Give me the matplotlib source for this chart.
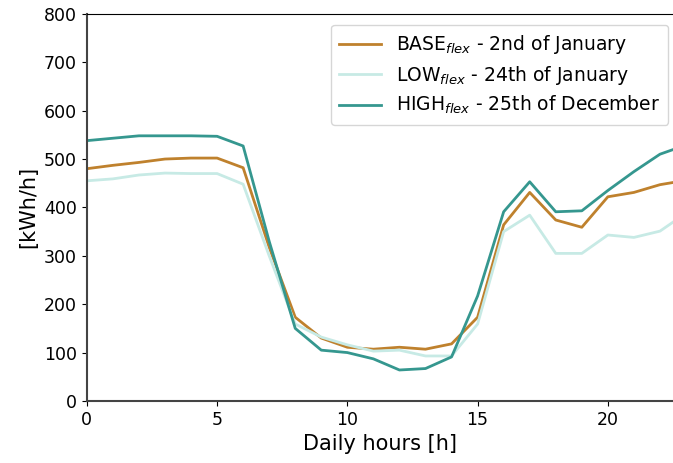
import numpy as np
import matplotlib.pyplot as plt

hours = list(range(24))

base_flex = [480, 487, 493, 500, 502, 502, 482, 318, 173, 130, 111, 107, 111, 107, 118, 173,
             364, 431, 374, 359, 422, 431, 447, 456]
low_flex = [455, 459, 467, 471, 470, 470, 448, 300, 159, 132, 116, 103, 105, 93, 93, 159,
            350, 384, 305, 305, 343, 338, 351, 388]
high_flex = [538, 543, 548, 548, 548, 547, 527, 330, 150, 105, 100, 87, 64, 67, 91, 217,
             391, 453, 391, 393, 435, 474, 510, 529]

labels = [r"BASE$_{flex}$ - 2nd of January",
          r"LOW$_{flex}$ - 24th of January",
          r"HIGH$_{flex}$ - 25th of December"]
colors = ["#bf812d", "#c7eae5", "#35978f"]

fig = plt.figure(figsize=(6.73, 4.63), dpi=100)
ax = fig.add_axes([0.129, 0.134, 0.871, 0.836])

for vals, lab, c in zip([base_flex, low_flex, high_flex], labels, colors):
    ax.plot(hours, vals, color=c, lw=2, label=lab)

ax.set_xlim(0, 22.5)
ax.set_ylim(0, 800)
ax.set_xticks([0, 5, 10, 15, 20])
ax.tick_params(labelsize=12.5)
ax.set_xlabel("Daily hours [h]", fontsize=15)
ax.set_ylabel("[kWh/h]", fontsize=15)
ax.spines['right'].set_visible(False)
for s in ['left', 'bottom']:
    ax.spines[s].set_color('#444444')
    ax.spines[s].set_linewidth(1.5)

ax.legend(loc='upper right', bbox_to_anchor=(0.992, 0.972), fontsize=13.5,
          handlelength=2.2, labelspacing=0.4, borderaxespad=0, borderpad=0.45,
          handletextpad=0.8)

fig.savefig("out.png", dpi=100)
